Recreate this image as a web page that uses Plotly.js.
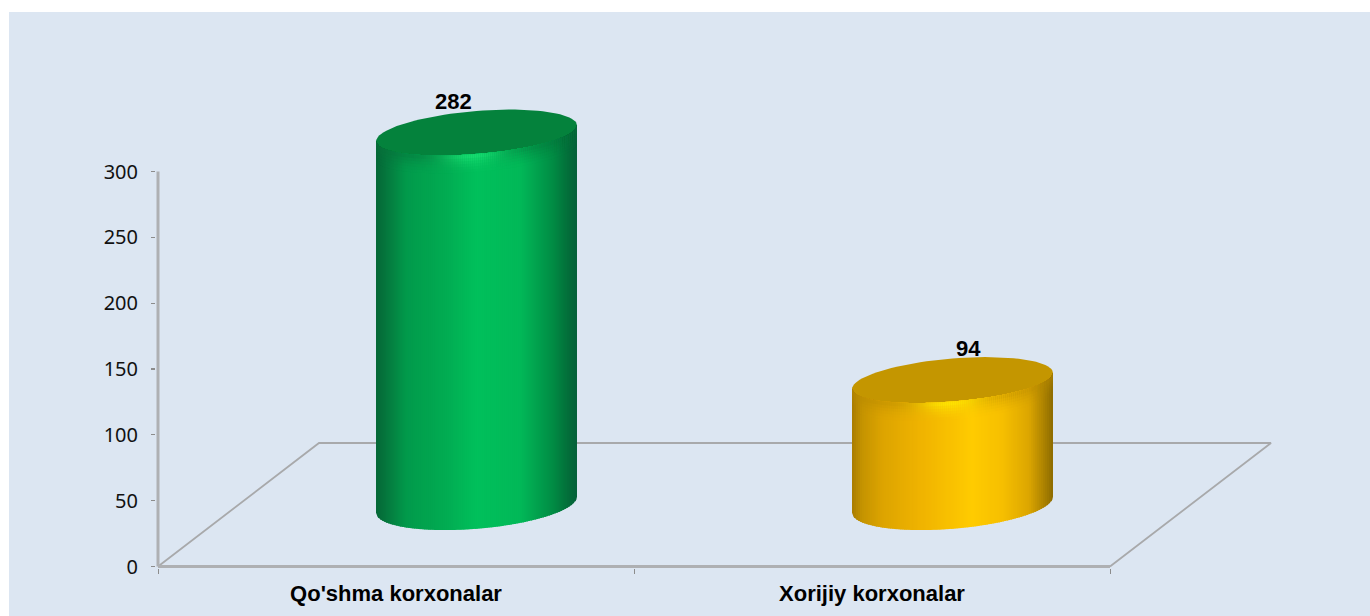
<!DOCTYPE html>
<html><head><meta charset="utf-8">
<script src="https://cdn.plot.ly/plotly-3.0.1.min.js"></script>
<style>html,body{margin:0;padding:0;background:#fff;overflow:hidden}</style>
</head><body><div id="chart" style="width:1370px;height:616px"></div>
<script>
const categories = ["Qo'shma korxonalar", "Xorijiy korxonalar"];
const values = [282, 94];
const yTicks = [0, 50, 100, 150, 200, 250, 300];

const W = 1370, H = 616, PL = 156, PB = 568, X0 = 158, Y0 = 566.5;
const pxX = 476, pxY = 395 / 300;             // pixels per data unit
const depthX = 161 / pxX, depthY = 123.5 / pxY; // oblique floor depth
const A = 100.5 / pxX, S = 8 / pxY, Bb = 24 / pxY; // ellipse radii + shear
const stopsGreen = [[0,'#056636'],[0.05,'#05773d'],[0.15,'#029a4b'],[0.35,'#02ac52'],[0.5,'#01c05b'],[0.72,'#02b858'],[0.88,'#018c44'],[0.96,'#036c39'],[1,'#05613a']];
const stopsGold = [[0,'#a87c00'],[0.05,'#c59300'],[0.15,'#dca400'],[0.35,'#f0b400'],[0.6,'#ffcb00'],[0.75,'#f6bf00'],[0.88,'#dca600'],[0.96,'#a98000'],[1,'#8c6b00']];
const palettes = [
  {stops: stopsGreen, top: '#04823c', glow: '#1fe678', dark: '#07713a'},
  {stops: stopsGold, top: '#c49600', glow: '#fff000', dark: '#b88a00'}
];
const labelShift = [-23, 16];

function hex(c){return [1,3,5].map(i=>parseInt(c.substr(i,2),16));}
function mix(a,b,f){const x=hex(a),y=hex(b);return '#'+x.map((v,i)=>Math.round(v+(y[i]-v)*f).toString(16).padStart(2,'0')).join('');}
function ramp(stops,u){for(let i=1;i<stops.length;i++){if(u<=stops[i][0]){const f=(u-stops[i-1][0])/(stops[i][0]-stops[i-1][0]);return mix(stops[i-1][1],stops[i][1],f);}}return stops[stops.length-1][1];}

const traces = [];
function poly(xs,ys,color){traces.push({x:xs,y:ys,mode:'lines',fill:'toself',fillcolor:color,line:{width:0},hoverinfo:'skip',showlegend:false,cliponaxis:false});}
function line(xs,ys,color,width){traces.push({x:xs,y:ys,mode:'lines',line:{color:color,width:width},hoverinfo:'skip',showlegend:false,cliponaxis:false});}

// floor edges and axis lines
line([0,depthX,2+depthX,2],[0,depthY,depthY,0],'#a8a9ab',1.8);
line([0,2],[0,0],'#aeb0b3',3);
line([0,0],[0,300],'#aeb0b3',3);

function yAt(cx,cy,x,b){ // front lower edge of the sheared ellipse at x
  const c = Math.max(-1,Math.min(1,(x-cx)/A)), s = Math.sqrt(1-c*c);
  return cy+S*c-b*s;
}

values.forEach((v,i)=>{
  const p = palettes[i];
  const cx = i+0.5+depthX/2, cy0 = depthY/2, cy1 = cy0+v;
  const N = 100, K = 6, rim = 17/pxY, inner = Bb-3.5/pxY;
  const dx = 2*A/N;
  const oxs=[],oys=[];
  for(let n=0;n<=96;n++){const t=2*Math.PI*n/96;oxs.push(cx+A*Math.cos(t));oys.push(cy1+S*Math.cos(t)-(Bb-1.5/pxY)*Math.sin(t));}
  poly(oxs,oys,p.top);
  for(let n=0;n<N;n++){
    const x1 = cx-A+n*dx, x2 = Math.min(cx+A,x1+dx*1.6);
    const w = (n+0.5)/N;
    const base = ramp(p.stops,w);
    const xs=[],ys0=[],ys1=[];
    [x1,(x1+x2)/2,x2].forEach(x=>{xs.push(x);ys0.push(yAt(cx,cy0,x,Bb));ys1.push(yAt(cx,cy1,x,inner));});
    poly(xs.concat(xs.slice().reverse(),[xs[0]]),ys1.concat(ys0.slice().reverse(),[ys1[0]]),base);
  }
  for(let n=0;n<N;n++){
    const x1 = cx-A+n*dx, x2 = Math.min(cx+A,x1+dx*1.6);
    const w = (n+0.5)/N;
    const base = ramp(p.stops,w);
    const g = Math.exp(-Math.pow((w-0.48)/0.15,2));
    for(let k=K-1;k>=0;k--){
      const f = Math.pow(1-k/K,1.8);
      const h1 = rim*(k+1.3)/K;
      let col = mix(base,p.dark,0.5*f*(1-g));
      col = mix(col,p.glow,0.7*f*g);
      const xs=[x1,x2,x2,x1,x1];
      const y1=yAt(cx,cy1,x1,inner), y2=yAt(cx,cy1,x2,inner);
      poly(xs,[y1,y2,y2-h1,y1-h1,y1],col);
    }
  }
});

const annotations = values.map((v,i)=>({
  x:i+0.5+depthX/2, y:v+depthY/2, xref:'x', yref:'y', text:'<b>'+v+'</b>', showarrow:false,
  xshift:labelShift[i], yshift:32, font:{family:'Liberation Sans, Arial, sans-serif',size:22,color:'#000'}
}));

const layout = {
  width:W,height:H,autosize:false,
  margin:{l:PL,r:0,t:12,b:H-PB,pad:0},
  paper_bgcolor:'#ffffff',plot_bgcolor:'rgba(0,0,0,0)',showlegend:false,hovermode:false,
  shapes:[{type:'rect',xref:'paper',yref:'paper',x0:(9-PL)/(W-PL),x1:1,y0:(PB-H)/(PB-12),y1:1,fillcolor:'#dce6f2',line:{width:0},layer:'below'}],
  xaxis:{range:[(PL-X0)/pxX,(W-X0)/pxX],tickmode:'array',tickvals:[0.5,1.5],ticktext:categories.map(c=>'<b>'+c+'</b>'),ticks:'',showgrid:false,zeroline:false,showline:false,
    ticklabelstandoff:10,
    tickfont:{family:'Liberation Sans, Arial, sans-serif',size:22,color:'#000'},
    minor:{tickmode:'array',tickvals:[0,1,2],ticks:'outside',ticklen:5,tickcolor:'#8c8c8c',tickwidth:1,showgrid:false}},
  yaxis:{range:[(Y0-PB)/pxY,(Y0-12)/pxY],tickmode:'array',tickvals:yTicks,ticktext:yTicks.map(String),ticks:'outside',ticklen:4,tickcolor:'#8c8c8c',tickwidth:1.2,
    ticklabelstandoff:9,showgrid:false,zeroline:false,showline:false,
    tickfont:{family:'Noto Sans, sans-serif',size:20,color:'#111'}},
  annotations
};
Plotly.newPlot('chart',traces,layout,{displayModeBar:false,staticPlot:true});
</script></body></html>
